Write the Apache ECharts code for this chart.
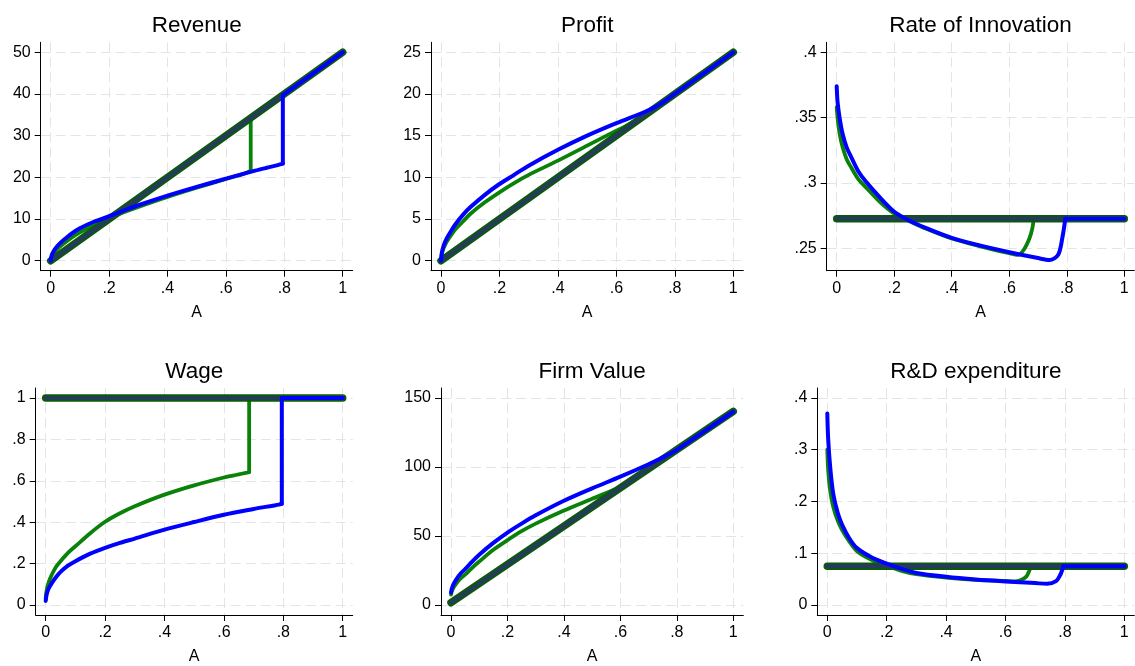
<!DOCTYPE html>
<html><head><meta charset="utf-8">
<script src="https://cdn.jsdelivr.net/npm/echarts@6/dist/echarts.min.js"></script>
<style>html,body{margin:0;padding:0;background:#fff}#c{width:1135px;height:666px}</style>
</head><body><div id="c"></div><script>
// ---------- DATA ----------
const A_GREEN = [0, 0.003, 0.01, 0.02, 0.035, 0.05, 0.075, 0.1, 0.15, 0.2, 0.25, 0.3, 0.4, 0.5, 0.6, 0.63, 0.65, 0.67, 0.68, 0.685, 0.685, 1];
const A_BLUE  = [0, 0.003, 0.01, 0.02, 0.035, 0.05, 0.075, 0.1, 0.15, 0.2, 0.25, 0.3, 0.4, 0.5, 0.6, 0.7, 0.74, 0.77, 0.785, 0.795, 0.795, 1];
const A_BASE  = [0, 1];
const X_TICKS = [0, 0.2, 0.4, 0.6, 0.8, 1];

const TITLES = ['Revenue', 'Profit', 'Rate of Innovation', 'Wage', 'Firm Value', 'R&D expenditure'];

const REV_GREEN = [0, 0.9, 1.8, 2.6, 3.6, 4.4, 5.7, 6.8, 8.7, 10.2, 11.6, 12.9, 15.3, 17.5, 19.6, 20.2, 20.6, 21.1, 21.4, 21.5, 34.25, 50];
const REV_BLUE  = [0, 1.2, 2.3, 3.3, 4.4, 5.3, 6.7, 7.8, 9.4, 10.7, 12.0, 13.3, 15.6, 17.7, 19.7, 21.6, 22.3, 22.8, 23.1, 23.3, 39.75, 50];
const REV_BASE  = [0, 50];
const REV_TICKS = [0, 10, 20, 30, 40, 50];

const PRO_GREEN = [0, 0.8, 1.6, 2.3, 3.1, 3.8, 4.7, 5.6, 7.0, 8.2, 9.3, 10.3, 12.0, 13.8, 15.6, 16.1, 16.5, 16.9, 17.1, 17.15, 17.15, 25];
const PRO_BLUE  = [0, 1.0, 1.9, 2.7, 3.6, 4.4, 5.5, 6.4, 7.9, 9.2, 10.3, 11.4, 13.3, 15.0, 16.5, 17.9, 18.6, 19.25, 19.65, 19.9, 19.9, 25];
const PRO_BASE  = [0, 25];
const PRO_TICKS = [0, 5, 10, 15, 20, 25];

const ROI_GREEN = [0.358, 0.350, 0.338, 0.328, 0.318, 0.312, 0.303, 0.297, 0.2855, 0.2765, 0.271, 0.266, 0.2575, 0.2515, 0.2462, 0.2449, 0.2487, 0.2575, 0.2650, 0.2727, 0.2727, 0.2727];
const ROI_BLUE  = [0.374, 0.362, 0.350, 0.338, 0.327, 0.320, 0.309, 0.3015, 0.289, 0.278, 0.2715, 0.2665, 0.258, 0.252, 0.247, 0.2425, 0.241, 0.245, 0.2585, 0.2727, 0.2727, 0.2727];
const ROI_BASE  = [0.2727, 0.2727];
const ROI_TICKS = [0.25, 0.3, 0.35, 0.4];

const WAGE_GREEN = [0.03, 0.07, 0.11, 0.145, 0.185, 0.212, 0.252, 0.284, 0.347, 0.402, 0.443, 0.477, 0.533, 0.578, 0.616, 0.625, 0.631, 0.637, 0.640, 0.642, 1, 1];
const WAGE_BLUE  = [0.02, 0.05, 0.08, 0.105, 0.135, 0.16, 0.19, 0.212, 0.248, 0.276, 0.30, 0.321, 0.364, 0.401, 0.436, 0.464, 0.474, 0.481, 0.485, 0.489, 1, 1];
const WAGE_BASE  = [1, 1];
const WAGE_TICKS = [0, 0.2, 0.4, 0.6, 0.8, 1];

const FV_GREEN = [7.5, 10, 13, 16, 19.5, 22, 27, 31.5, 40, 47, 53.5, 59, 68.5, 77, 85.5, 89.5, 92, 94.7, 96, 96.5, 96.5, 140];
const FV_BLUE  = [9, 12, 15.5, 19, 23, 26, 31.5, 36.5, 45, 52.5, 59, 65, 75.5, 84.5, 93, 102, 106, 109, 110.6, 111.7, 111.7, 140];
const FV_BASE  = [1.7, 140.3];
const FV_TICKS = [0, 50, 100, 150];

const RD_GREEN = [0.30, 0.26, 0.22, 0.19, 0.163, 0.145, 0.122, 0.104, 0.087, 0.076, 0.066, 0.0595, 0.053, 0.0488, 0.0465, 0.0458, 0.048, 0.055, 0.066, 0.0751, 0.0751, 0.0751];
const RD_BLUE  = [0.37, 0.32, 0.265, 0.215, 0.178, 0.155, 0.128, 0.11, 0.092, 0.08, 0.07, 0.062, 0.0546, 0.0494, 0.0456, 0.0424, 0.041, 0.046, 0.059, 0.0751, 0.0751, 0.0751];
const RD_BASE  = [0.0751, 0.0751];
const RD_TICKS = [0, 0.1, 0.2, 0.3, 0.4];

const PANELS = [
  {title: TITLES[0], green: REV_GREEN, blue: REV_BLUE, base: REV_BASE, ticks: REV_TICKS, yr: [0, 50]},
  {title: TITLES[1], green: PRO_GREEN, blue: PRO_BLUE, base: PRO_BASE, ticks: PRO_TICKS, yr: [0, 25]},
  {title: TITLES[2], green: ROI_GREEN, blue: ROI_BLUE, base: ROI_BASE, ticks: ROI_TICKS, yr: [0.2405, 0.4]},
  {title: TITLES[3], green: WAGE_GREEN, blue: WAGE_BLUE, base: WAGE_BASE, ticks: WAGE_TICKS, yr: [0, 1]},
  {title: TITLES[4], green: FV_GREEN, blue: FV_BLUE, base: FV_BASE, ticks: FV_TICKS, yr: [0, 150]},
  {title: TITLES[5], green: RD_GREEN, blue: RD_BLUE, base: RD_BASE, ticks: RD_TICKS, yr: [0, 0.4]}
];

// ---------- LAYOUT / STYLE ----------
const BOXES = [
  {l: 40.7, t: 42.3, r: 352.7, b: 270.7},
  {l: 431,  t: 42.3, r: 743.3, b: 270.7},
  {l: 826.7, t: 42.3, r: 1134.3, b: 270.7},
  {l: 35.7, t: 388, r: 352.7, b: 616},
  {l: 441,  t: 388, r: 743.3, b: 616},
  {l: 817.3, t: 388, r: 1134.3, b: 616}
];
const TITLE_TOP = [14, 14, 14, 360.6, 360.6, 360.6];
const PAD = 10;
const FONT = '"Liberation Sans", Arial, Helvetica, sans-serif';
const fmt = v => String(+(+v).toFixed(4)).replace(/^0\./, '.').replace(/^-0\./, '-.');

const grid = [], xAxis = [], yAxis = [], series = [], title = [];
const gridLine = {show: true, lineStyle: {color: '#e4e4e4', width: 1, type: [10, 5]}};
const axisLine = {show: true, onZero: false, lineStyle: {color: '#000', width: 1}};
const axisTickBase = {show: true, length: 6, inside: false, lineStyle: {color: '#000', width: 1}};

// split a curve at its jump (repeated A value): smooth curve part + straight jump/tail part
function splitAtJump(xsArr, vals) {
  let j = xsArr.length - 1;
  for (let k = 0; k < xsArr.length - 1; k++) { if (xsArr[k] === xsArr[k + 1]) { j = k; break; } }
  const pts = xsArr.map((a, k) => [a, vals[k]]);
  return [pts.slice(0, j + 1), pts.slice(j)];
}

PANELS.forEach((p, i) => {
  const bx = BOXES[i];
  const W = bx.r - bx.l, H = bx.b - bx.t;
  grid.push({left: bx.l, top: bx.t, width: W, height: H});
  const xs = PAD / (W - 2 * PAD);
  const ys = (p.yr[1] - p.yr[0]) * PAD / (H - 2 * PAD);
  title.push({text: p.title, left: (bx.l + bx.r) / 2, top: TITLE_TOP[i], textAlign: 'center', padding: 0,
    textStyle: {fontFamily: FONT, fontSize: 22.5, fontWeight: 'normal', color: '#000'}});
  xAxis.push({type: 'value', gridIndex: i, min: -xs, max: 1 + xs,
    name: 'A', nameLocation: 'middle', nameGap: 34,
    nameTextStyle: {fontFamily: FONT, fontSize: 16, color: '#000'},
    axisLine, axisTick: Object.assign({customValues: X_TICKS}, axisTickBase),
    axisLabel: {customValues: X_TICKS, formatter: fmt, fontFamily: FONT, fontSize: 16, color: '#000', margin: 10},
    splitLine: gridLine});
  yAxis.push({type: 'value', gridIndex: i, min: p.yr[0] - ys, max: p.yr[1] + ys,
    axisLine, axisTick: Object.assign({customValues: p.ticks}, axisTickBase),
    axisLabel: {customValues: p.ticks, formatter: fmt, fontFamily: FONT, fontSize: 16, color: '#000', margin: 10},
    splitLine: gridLine});
  const common = {type: 'line', xAxisIndex: i, yAxisIndex: i, symbol: 'none', silent: true, animation: false, clip: false};
  const greenStyle = {color: '#0a820a', width: 3.8, cap: 'round', join: 'round'};
  const blueStyle = {color: '#0000ff', width: 4, cap: 'round', join: 'round'};
  const g = splitAtJump(A_GREEN, p.green), b = splitAtJump(A_BLUE, p.blue);
  series.push(Object.assign({}, common, {data: g[0], smooth: 0.3, lineStyle: greenStyle}));
  series.push(Object.assign({}, common, {data: g[1], lineStyle: greenStyle}));
  series.push(Object.assign({}, common, {data: A_BASE.map((a, k) => [a, p.base[k]]), lineStyle: {color: '#0b5a0b', width: 7.5, cap: 'round', join: 'round'}}));
  series.push(Object.assign({}, common, {data: A_BASE.map((a, k) => [a, p.base[k]]), lineStyle: {color: '#26395e', width: 3.6, cap: 'round', join: 'round'}}));
  series.push(Object.assign({}, common, {data: b[0], smooth: 0.3, lineStyle: blueStyle}));
  series.push(Object.assign({}, common, {data: b[1], lineStyle: blueStyle}));
});

const chart = echarts.init(document.getElementById('c'), null, {renderer: 'canvas'});
chart.setOption({backgroundColor: '#fff', animation: false, title, grid, xAxis, yAxis, series});
</script></body></html>
